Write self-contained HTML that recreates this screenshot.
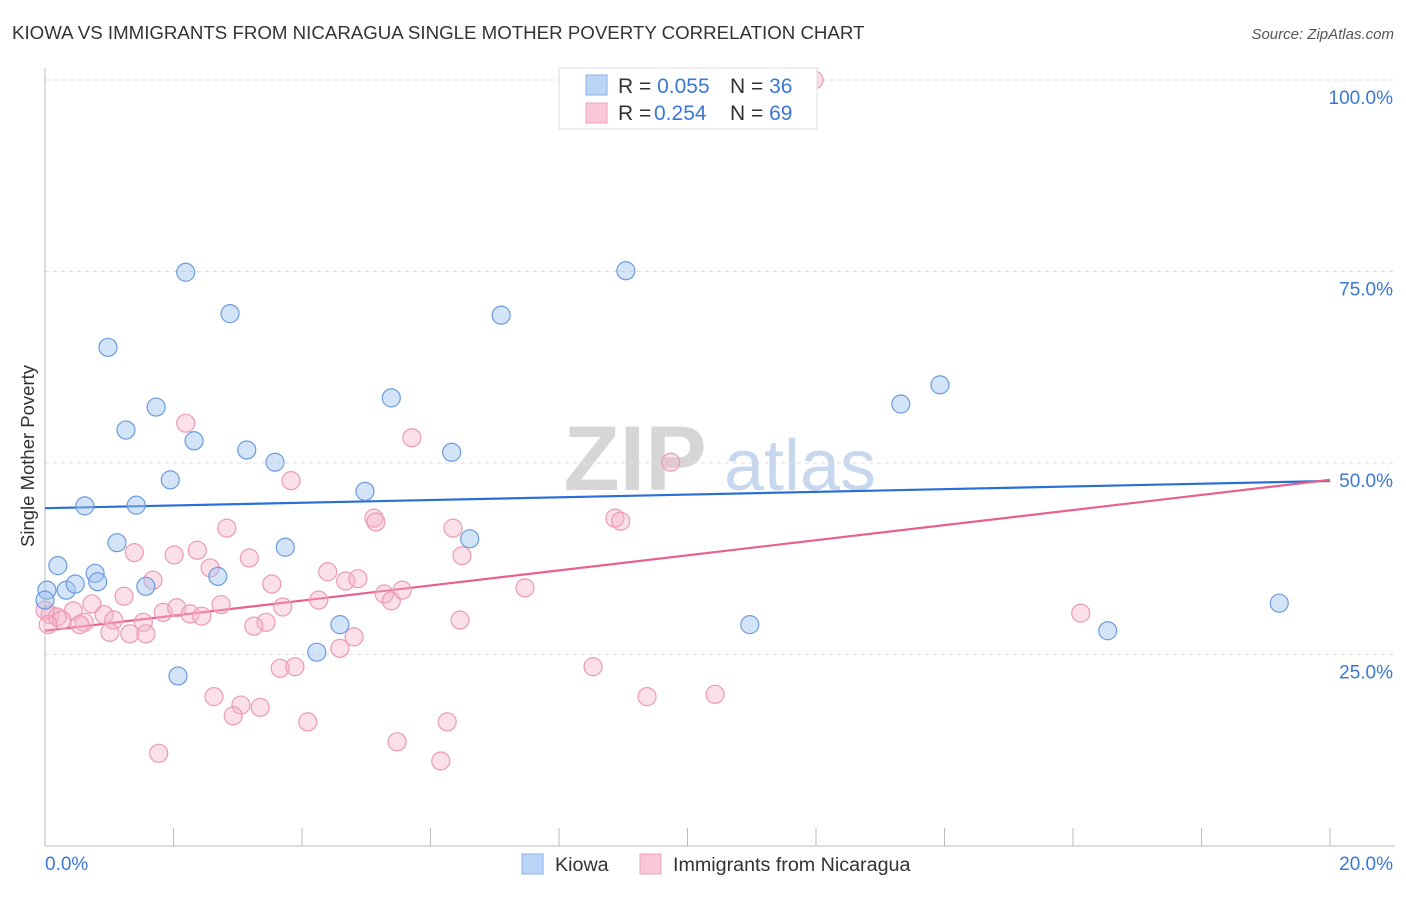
<!DOCTYPE html>
<html><head><meta charset="utf-8"><style>
body{margin:0;background:#fff;font-family:"Liberation Sans",sans-serif;}
svg text{font-family:"Liberation Sans",sans-serif;}
</style></head><body>
<svg id="chart" width="1406" height="892" viewBox="0 0 1406 892" xmlns="http://www.w3.org/2000/svg">
<text x="12" y="39" font-size="18.7" fill="#333">KIOWA VS IMMIGRANTS FROM NICARAGUA SINGLE MOTHER POVERTY CORRELATION CHART</text>
<text x="1394" y="39" font-size="15" fill="#555" font-style="italic" text-anchor="end">Source: ZipAtlas.com</text>
<g>
<text x="635" y="490" font-size="92" font-family="Liberation Serif" fill="#d6d6d6" text-anchor="middle" font-weight="bold">ZIP</text>
<text x="800" y="490" font-size="72" fill="#c7d7ee" text-anchor="middle">atlas</text>
</g>
<g id="grid"></g>
<g id="axes"></g>
<g id="lines"></g>
<g id="points"></g>
<text transform="translate(34,456) rotate(-90)" font-size="18.5" fill="#333" text-anchor="middle">Single Mother Poverty</text>
<g>
<rect x="559" y="68" width="258" height="61" fill="#fff" stroke="#ddd"/>
<rect x="586" y="75" width="21" height="20" fill="#bcd4f6" stroke="#8ab0e8"/>
<rect x="586" y="103" width="21" height="20" fill="#f9c8d6" stroke="#eea2bb"/>
<text x="618" y="93" font-size="21" fill="#333">R = <tspan fill="#3a78d4">0.055</tspan><tspan x="730">N = </tspan><tspan fill="#3a78d4">36</tspan></text>
<text x="618" y="120" font-size="21" fill="#333">R = <tspan fill="#3a78d4" x="654">0.254</tspan><tspan x="730">N = </tspan><tspan fill="#3a78d4">69</tspan></text>
</g>
<g>
<rect x="522" y="854" width="21" height="20" fill="#bcd4f6" stroke="#8ab0e8"/>
<text x="555" y="871" font-size="19.7" fill="#333">Kiowa</text>
<rect x="640" y="854" width="21" height="20" fill="#f9c8d6" stroke="#eea2bb"/>
<text x="673" y="871" font-size="19.7" fill="#333">Immigrants from Nicaragua</text>
</g>
</svg>
<script>
const kiowaX=[0.03,0.2,0.33,0.47,0.62,0.78,0.82,0.98,1.12,1.26,1.42,1.57,1.73,1.95,2.07,2.19,2.32,2.69,2.88,3.14,3.58,3.74,4.23,4.59,4.98,5.39,6.33,6.61,7.1,9.04,10.97,13.32,13.93,16.54,19.21,0];
const kiowaY=[33.4,36.6,33.4,34.2,44.4,35.6,34.5,65.1,39.6,54.3,44.5,33.9,57.3,47.8,22.2,74.9,52.9,35.2,69.5,51.7,50.1,39.0,25.3,28.9,46.3,58.5,51.4,40.1,69.3,75.1,28.9,57.7,60.2,28.1,31.7,32.1];
const nicX=[11.97,2.19,5.71,9.74,3.83,2.83,5.12,5.15,6.35,8.87,8.96,1.39,2.01,2.37,3.18,6.49,1.68,2.57,3.53,4.4,4.68,4.87,5.28,5.39,5.56,7.47,1.23,0.73,0.44,0.92,1.84,2.05,2.26,2.44,2.74,3.7,4.26,16.12,6.46,0.08,0.19,0.26,0.61,1.07,1.53,3.44,3.25,1.01,1.32,1.57,0.54,4.59,4.81,3.66,3.89,8.53,2.63,3.05,2.93,3.35,4.09,9.37,10.43,6.26,5.48,1.77,6.16,0,0.05];
const nicY=[100,55.2,53.3,50.1,47.7,41.5,42.8,42.3,41.5,42.8,42.4,38.3,38.0,38.6,37.6,37.9,34.7,36.3,34.2,35.8,34.6,34.9,32.9,32.0,33.4,33.7,32.6,31.6,30.7,30.2,30.5,31.1,30.3,30.0,31.5,31.2,32.1,30.4,29.5,30.2,29.9,29.5,29.2,29.5,29.2,29.2,28.7,27.9,27.7,27.7,28.9,25.8,27.3,23.2,23.4,23.4,19.5,18.4,17.0,18.1,16.2,19.5,19.8,16.2,13.6,12.1,11.1,30.8,28.9];
const kiowaTrend=[44.1,47.65];
const nicTrend=[28.1,47.8];
const yTicks=[25,50,75,100];
const yTickLabels=["25.0%","50.0%","75.0%","100.0%"];
const xEnds=["0.0%","20.0%"];
const NS="http://www.w3.org/2000/svg";
const X0=45,X1=1330,Y0=846,Y1=80;
function sx(v){return X0+(v/20)*(X1-X0);}
function sy(v){return Y0-(v/100)*(Y0-Y1);}
function mk(tag,attrs,parent){const e=document.createElementNS(NS,tag);for(const k in attrs)e.setAttribute(k,attrs[k]);parent.appendChild(e);return e;}
const grid=document.getElementById('grid'),axes=document.getElementById('axes'),lines=document.getElementById('lines'),pts=document.getElementById('points');
yTicks.forEach((t,i)=>{
  const l=mk('line',{x1:X0,x2:1395,y1:sy(t),y2:sy(t),stroke:'#ddd','stroke-dasharray':'4,4'},grid);
  
  
  const tx=mk('text',{x:1393,y:sy(t)+24,'font-size':19,fill:'#3a78d4','text-anchor':'end'},axes);
  tx.textContent=yTickLabels[i];
  
  
});
const la=mk('line',{x1:X0,x2:X0,y1:68,y2:Y0,stroke:'#bbb'},axes);


const lb=mk('line',{x1:X0,x2:1395,y1:Y0,y2:Y0,stroke:'#bbb'},axes);


for(let i=0;i<=10;i++){
  const t=mk('line',{x1:sx(i*2),x2:sx(i*2),y1:828,y2:Y0,stroke:'#bbb'},axes);
  
  
}
const xl0=mk('text',{x:45,y:870,'font-size':19,fill:'#3a78d4'},axes);xl0.textContent=xEnds[0];


const xl1=mk('text',{x:1393,y:870,'font-size':19,fill:'#3a78d4','text-anchor':'end'},axes);xl1.textContent=xEnds[1];


function drawPts(xs,ys,fill,stroke,name){xs.forEach((x,i)=>{
  const c=mk('circle',{cx:sx(x),cy:sy(ys[i]),r:9,fill:fill,stroke:stroke,'stroke-width':1.2},pts);
  
  
});}
drawPts(nicX,nicY,'rgba(246,178,200,0.4)','#eb9ab4','nicaragua-point');
drawPts(kiowaX,kiowaY,'rgba(160,196,240,0.45)','#6a9be0','kiowa-point');
const tb=mk('line',{x1:sx(0),x2:sx(20),y1:sy(kiowaTrend[0]),y2:sy(kiowaTrend[1]),stroke:'#2a6fd6','stroke-width':2.2},lines);


const tp=mk('line',{x1:sx(0),x2:sx(20),y1:sy(nicTrend[0]),y2:sy(nicTrend[1]),stroke:'#e8608c','stroke-width':2.2},lines);


</script>
</body></html>
